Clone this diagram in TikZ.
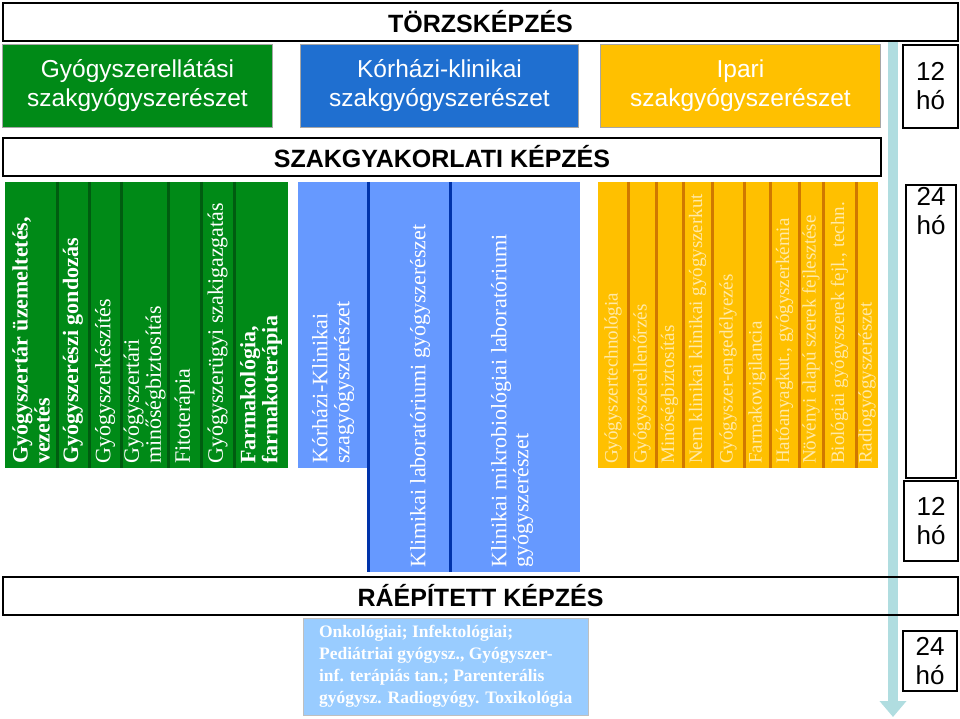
\documentclass[tikz,border=0pt]{standalone}
\usepackage{fontspec}
\setmainfont{Liberation Serif}
\setsansfont{Liberation Sans}
\usetikzlibrary{positioning,arrows.meta}
\definecolor{dgreen}{HTML}{008A17}
\definecolor{ddgreen}{HTML}{005C10}
\definecolor{dblue}{HTML}{1F6FD0}
\definecolor{lblue}{HTML}{6699FF}
\definecolor{ddblue}{HTML}{0033AA}
\definecolor{yel}{HTML}{FFC000}
\definecolor{dyel}{HTML}{D07800}
\definecolor{tyel}{HTML}{FFE9A8}
\definecolor{pblue}{HTML}{99CCFF}
\definecolor{arr}{HTML}{B0DDE0}
\tikzset{
  hdr/.style={draw=black,line width=2pt,font=\sffamily\bfseries\fontsize{25}{27}\selectfont},
  head/.style={draw=gray!70,line width=1pt,text=white,align=center,font=\sffamily\fontsize{24.5}{29}\selectfont},
  ho/.style={draw=black,line width=2pt,fill=white,align=center,font=\sffamily\fontsize{26}{29}\selectfont},
  coltext/.style={rotate=90,anchor=west,align=left,inner sep=0pt,font=\fontsize{#1}{#1}\selectfont},
}
\begin{document}
\begin{tikzpicture}[x=1pt,y=-1pt]
\useasboundingbox (0,0) rectangle (960,719);
% arrow
\draw[arr,line width=10pt,-{Triangle[length=16pt,width=26pt]}] (893,40) -- (893,717);
% headers
\node[hdr,minimum width=955,minimum height=38,anchor=north west] (torzs) at (2,2) {TÖRZSKÉPZÉS};
\node[head,fill=dgreen,minimum width=270,minimum height=83,anchor=north west] (gyogy) at (2,44) {Gyógyszerellátási\\szakgyógyszerészet};
\node[head,fill=dblue,minimum width=278,minimum height=83,anchor=north west] (korhazi) at (300,44) {Kórházi-klinikai\\szakgyógyszerészet};
\node[head,fill=yel,minimum width=280,minimum height=83,anchor=north west] (ipari) at (600,44) {Ipari\\szakgyógyszerészet};
\node[ho,minimum width=55,minimum height=83,anchor=north west] (ho1) at (902,44) {12\\hó};
\node[hdr,minimum width=878,minimum height=38,anchor=north west] (szak) at (2,137) {SZAKGYAKORLATI KÉPZÉS};
% green columns
\fill[dgreen] (5,182) rectangle (288,468);
\foreach \xx in {57,89,121,168,201,234}
  \draw[ddgreen,line width=3pt] (\xx,182) -- (\xx,468);
\foreach \xa/\xb/\txt [count=\i] in {5/57/{\textbf{Gyógyszertár üzemeltetés,}\\\textbf{vezetés}},57/89/\textbf{Gyógyszerészi gondozás},89/121/Gyógyszerkészítés,121/168/{Gyógyszertári\\minőségbiztosítás},168/201/Fitoterápia,201/234/Gyógyszerügyi szakigazgatás,234/288/{\textbf{Farmakológia,}\\\textbf{farmakoterápia}}}
  \node[coltext=22,text=white] (g\i) at ({(\xa+\xb)/2},464) {\txt};
% blue columns
\fill[lblue] (298,182) rectangle (368,468);
\fill[lblue] (368,182) rectangle (580,572);
\draw[ddblue,line width=3pt] (368,182) -- (368,572);
\draw[ddblue,line width=3pt] (450,182) -- (450,572);
\node[coltext=22,text=white] (b1) at (333,464) {Kórházi-Klinikai\\szagyógyszerészet};
\node[coltext=22,text=white] (b2) at (420,568) {Klimikai laboratóriumi gyógyszerészet};
\node[coltext=22,text=white] (b3) at (512,568) {Klinikai mikrobiológiai laboratóriumi\\gyógyszerészet};
% yellow columns
\fill[yel] (598,182) rectangle (878,468);
\foreach \xx in {628,656,683,712,744,770,799,823,856}
  \draw[dyel,line width=3pt] (\xx,182) -- (\xx,468);
\foreach \xa/\xb/\txt [count=\i] in {598/628/Gyógyszertechnológia,628/656/Gyógyszerellenőrzés,656/683/Minőségbiztosítás,683/712/Nem klinikai klinikai gyógyszerkut,712/744/Gyógyszer-engedélyezés,744/770/Farmakovigilancia,770/799/{Hatóanyagkut., gyógyszerkémia},799/823/Növényi alapú szerek fejlesztése,823/856/{Biológiai gyógyszerek fejl., techn.},856/878/Radiogyógyszerészet}
  \node[coltext=19,text=tyel] (y\i) at ({(\xa+\xb)/2},464) {\txt};
% month boxes
\node[ho,minimum width=50,minimum height=293,anchor=north west] (ho2) at (905,184) {};
\node[font=\sffamily\fontsize{26}{29}\selectfont,align=center,anchor=north] at (ho2.north) {24\\hó};
\node[ho,minimum width=54,minimum height=80,anchor=north west] (ho3) at (903,480) {12\\hó};
% built-on training
\node[hdr,minimum width=955,minimum height=38,anchor=north west] (raep) at (2,576) {RÁÉPÍTETT KÉPZÉS};
\node[fill=pblue,draw=gray!50,minimum width=285,minimum height=97,anchor=north west,align=left,text=white,inner sep=3pt,font=\bfseries\fontsize{17.5}{22}\selectfont] (tovabb) at (303,618) {Onkológiai; Infektológiai;\\Pediátriai gyógysz., Gyógyszer-\\inf. terápiás tan.; Parenterális\\gyógysz. Radiogyógy. Toxikológia};
\node[ho,minimum width=54,minimum height=60,anchor=north west] (ho4) at (902,630) {24\\hó};
\end{tikzpicture}
\end{document}
